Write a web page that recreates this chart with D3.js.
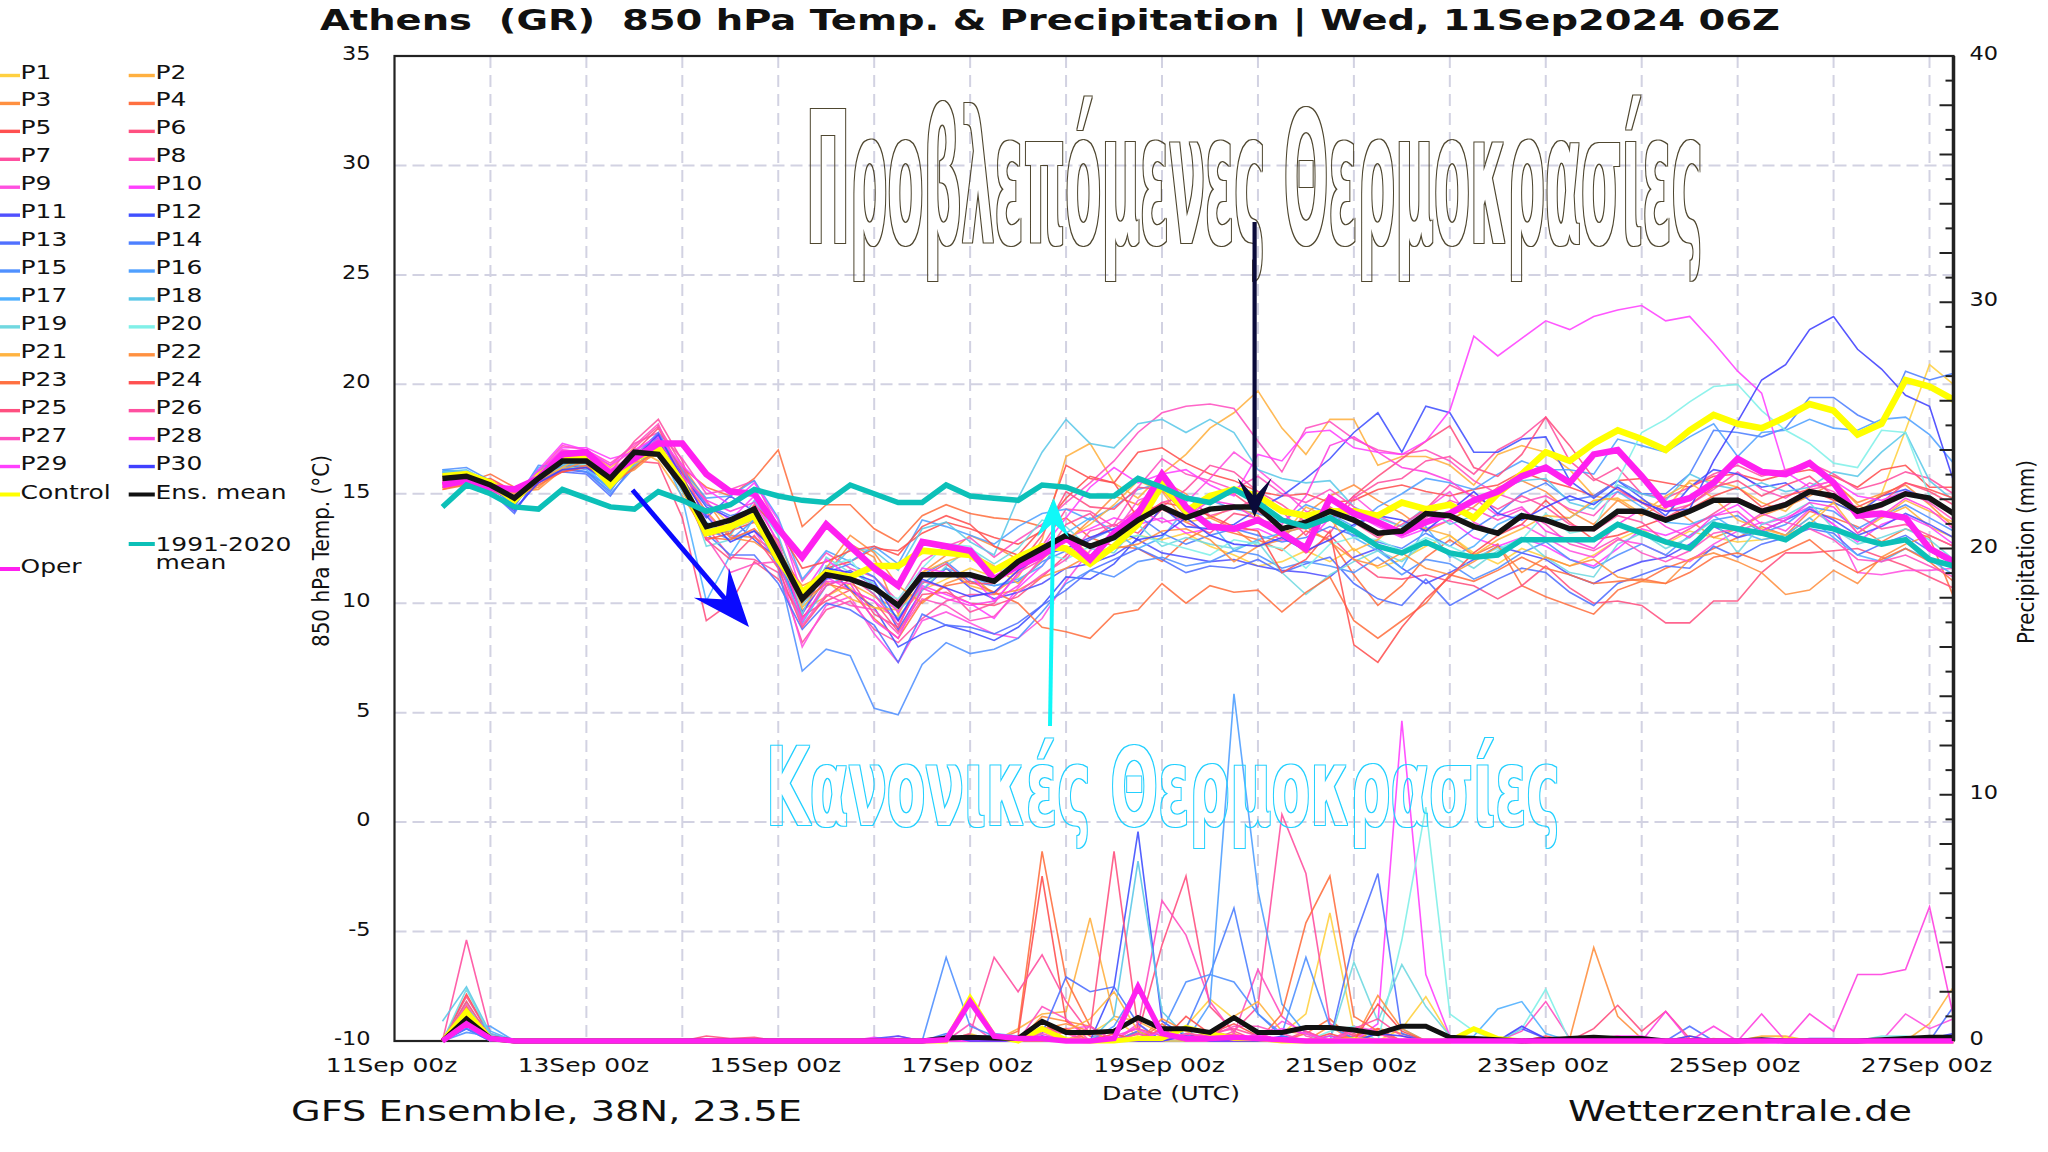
<!DOCTYPE html>
<html><head><meta charset="utf-8">
<style>html,body{margin:0;padding:0;background:#fff}svg{display:block}text{font-family:"DejaVu Sans";fill:#111}</style>
<script src="https://cdn.jsdelivr.net/npm/d3@7"></script></head><body><svg id="c" width="2048" height="1152"></svg>
<script>
const memberNames=["P1","P2","P3","P4","P5","P6","P7","P8","P9","P10","P11","P12","P13","P14","P15","P16","P17","P18","P19","P20","P21","P22","P23","P24","P25","P26","P27","P28","P29","P30"];
const memberColors=["#ffd040","#ffb040","#ff9040","#ff7040","#ff5050","#ff5080","#ff50a0","#ff50c0","#ff50e0","#ff40ff","#5050ff","#4050ff","#5070ff","#4d80ff","#5090ff","#50a0ff","#50b0ff","#5cc8e8","#70d8e0","#80f0e8","#ffb340","#ff9040","#ff7040","#ff5050","#ff5080","#ff50a0","#ff50c0","#ff40e0","#ff40ff","#4040ff"];
const tP1=[15.9,15.6,15.3,14.9,15.9,16.7,16.9,15.7,16.7,17.0,16.1,14.6,13.6,14.4,12.5,10.6,11.4,10.7,9.8,9.4,10.6,11.1,11.6,11.2,11.4,12.3,13.2,12.2,12.6,13.1,12.9,13.2,12.6,12.2,11.7,11.9,12.4,11.9,12.5,11.6,12.0,12.6,13.1,12.3,11.8,12.5,12.1,11.7,12.2,12.9,13.4,12.7,13.3,13.0,12.8,12.9,13.1,13.9,14.6,14.1,15.0,17.9,20.9,20.0];
const tP2=[15.8,15.5,15.2,14.7,15.6,16.3,16.9,16.2,17.1,16.5,14.9,13.2,13.4,13.8,11.9,9.7,10.3,10.9,10.3,9.7,10.9,11.6,10.8,10.5,11.2,12.9,16.7,17.3,15.5,14.8,15.9,16.8,18.0,18.7,19.7,18.0,16.8,18.4,18.4,16.3,16.7,16.7,16.3,15.4,16.8,17.2,16.9,16.1,14.9,14.7,14.7,14.3,15.6,15.6,15.3,14.6,14.2,15.3,15.6,14.5,13.9,14.4,13.5,13.0];
const tP3=[15.3,15.4,15.6,15.0,15.3,16.2,16.4,15.3,16.2,17.2,16.3,14.7,13.1,13.0,12.3,10.8,11.3,12.7,12.1,9.5,11.4,12.2,13.1,12.6,12.0,12.4,12.8,13.8,14.9,14.5,15.6,15.0,13.9,13.4,12.6,12.9,14.1,14.9,15.4,14.7,14.1,13.3,13.8,14.4,15.3,15.6,15.1,14.2,13.6,14.7,14.0,14.6,13.8,13.0,13.4,14.0,14.4,14.9,15.5,14.6,15.0,15.4,14.5,13.5];
const tP4=[15.4,15.5,15.9,15.3,15.6,16.2,16.3,15.5,16.3,17.0,16.2,15.3,14.9,15.7,17.0,13.5,14.5,14.5,13.4,12.8,14.0,14.5,14.1,13.9,13.8,13.5,13.9,13.0,12.6,12.5,11.9,12.9,13.5,13.2,12.9,12.4,13.3,12.9,11.3,9.9,10.8,12.1,12.9,12.2,12.7,10.8,10.3,9.9,9.5,10.6,11.0,11.6,12.0,12.5,13.0,13.5,13.1,14.2,13.9,13.5,12.8,13.4,13.0,10.3];
const tP5=[15.6,15.8,15.5,15.0,15.8,16.4,16.4,15.9,16.9,17.2,15.4,13.1,13.3,13.7,12.9,10.4,11.6,11.9,12.5,12.4,13.2,13.7,13.4,13.0,12.7,13.3,16.3,15.7,15.5,16.9,17.1,16.4,15.9,15.6,15.1,14.9,15.0,14.6,14.7,15.2,15.4,15.1,14.9,15.2,15.4,16.0,15.6,15.3,14.9,15.6,15.7,15.5,15.3,15.8,15.9,15.6,15.9,16.1,15.8,15.3,16.1,16.3,15.3,15.3];
const tP6=[15.3,15.6,15.2,14.6,15.5,16.4,16.6,15.6,16.5,16.4,13.9,9.2,10.0,11.9,11.1,9.4,10.1,10.6,10.1,8.7,10.4,10.5,10.0,9.9,10.3,11.2,12.2,12.9,13.6,13.2,14.3,13.7,13.2,14.1,13.9,13.2,12.3,13.1,12.0,11.2,11.1,11.3,11.0,10.8,10.2,10.8,11.7,10.7,10.0,10.1,9.9,9.1,9.1,10.1,10.1,11.4,12.3,12.3,12.4,12.5,12.1,11.7,11.2,10.7];
const tP7=[15.4,15.7,15.4,14.9,15.8,16.9,16.8,16.0,17.4,18.4,16.5,13.5,12.1,12.0,11.4,8.2,9.7,10.1,8.8,8.2,9.3,10.1,10.4,10.4,11.5,12.6,14.3,14.2,13.5,14.3,14.4,15.2,16.3,16.0,15.1,14.5,13.7,13.2,14.8,15.5,15.7,16.5,16.7,15.9,17.0,17.6,18.5,16.5,15.6,16.2,15.0,14.8,15.3,15.9,16.3,15.8,16.1,16.4,15.9,15.2,15.5,16.0,15.7,15.0];
const tP8=[15.5,15.4,15.0,14.5,16.0,17.0,16.9,16.3,17.3,17.8,16.6,15.0,15.2,15.6,13.5,11.0,12.3,11.6,11.2,10.1,11.9,12.6,13.0,12.1,12.9,13.6,14.6,15.5,16.5,17.8,18.7,19.0,19.1,18.9,17.4,16.0,18.0,18.3,17.5,17.0,16.8,17.0,16.5,15.6,15.0,14.6,14.9,14.3,14.0,15.1,14.6,14.2,14.5,15.2,16.0,15.2,14.8,15.5,15.1,14.0,14.4,15.1,14.6,13.8];
const tP9=[15.6,15.7,15.3,14.7,15.5,16.8,16.7,16.0,16.6,17.3,16.2,14.1,13.0,13.3,11.8,8.0,9.9,10.3,8.6,7.3,9.2,9.6,9.1,8.6,8.4,9.3,11.0,12.4,13.2,14.7,15.1,14.6,15.7,16.9,16.1,15.2,14.2,13.8,14.9,14.0,13.5,14.3,15.1,13.7,13.2,13.6,13.0,12.4,12.1,12.9,12.7,12.2,11.9,12.7,13.3,13.7,13.3,14.3,13.6,11.4,11.3,11.5,11.5,11.6];
const tP10=[15.7,15.8,15.6,14.9,15.9,17.1,17.1,16.6,16.9,17.7,15.9,14.6,13.8,14.9,12.7,9.5,11.2,10.6,10.1,9.2,10.8,10.4,10.0,9.3,10.7,11.7,13.0,13.4,13.9,13.6,13.9,13.2,13.4,13.3,13.4,12.9,12.7,13.9,14.1,13.5,13.0,13.4,13.8,13.0,12.6,13.0,12.6,12.0,11.7,12.5,13.4,13.1,13.5,14.0,14.5,13.6,13.9,14.4,13.6,12.8,13.6,14.0,13.5,12.7];
const tP11=[15.9,15.7,15.1,14.2,15.6,16.1,16.0,15.3,16.6,17.1,15.3,13.9,14.9,14.2,11.7,9.6,11.1,11.5,10.8,8.8,10.6,11.6,10.7,10.2,10.5,10.9,11.6,11.8,12.2,12.9,12.3,12.1,11.9,12.0,11.7,11.5,11.4,11.2,12.1,12.5,11.6,10.9,11.4,12.0,12.6,12.3,12.0,11.3,10.9,11.5,11.9,12.1,12.7,13.5,13.0,13.3,13.8,14.3,13.8,13.1,13.5,14.1,13.6,13.0];
const tP12=[15.8,15.9,15.3,14.5,15.9,16.3,16.2,15.5,16.8,17.4,15.9,14.4,13.9,12.9,12.0,9.5,11.7,10.6,9.8,8.0,8.6,9.0,8.7,8.3,8.9,9.9,11.2,11.1,11.8,13.0,14.4,13.5,13.4,13.6,14.3,14.9,15.7,16.6,17.8,18.7,16.9,19.0,18.7,16.9,16.9,17.5,17.6,15.6,14.8,15.6,14.8,14.0,15.3,16.1,15.9,15.3,15.5,14.7,14.6,14.1,14.9,15.2,14.7,14.2];
const tP13=[16.0,15.7,15.1,14.1,15.9,16.0,15.9,14.9,16.4,17.6,15.6,13.2,12.2,12.2,10.9,8.8,10.0,9.7,9.0,7.3,9.5,9.0,8.9,8.6,9.1,9.9,10.6,11.5,12.0,12.5,12.0,11.4,11.7,11.6,12.0,11.4,11.8,12.1,10.9,10.2,9.9,11.1,9.9,10.5,11.1,11.6,11.4,10.5,9.9,10.9,11.3,11.7,11.6,12.6,12.1,12.7,13.0,13.4,13.2,12.2,12.7,13.1,12.4,11.8];
const tP14=[16.1,15.9,15.4,14.4,16.0,16.2,16.0,15.1,16.7,17.8,16.0,14.5,14.0,14.3,12.4,9.9,11.4,11.8,11.2,9.9,11.3,11.9,11.0,10.8,11.0,11.9,12.4,12.9,13.4,14.0,13.2,12.7,13.1,13.4,13.1,12.8,13.0,13.5,13.1,12.8,12.5,13.2,12.6,13.4,14.1,15.0,15.5,14.7,14.9,15.6,15.0,15.0,15.9,17.9,17.8,17.6,18.0,19.4,19.4,18.6,18.1,20.6,20.2,20.5];
const tP15=[16.1,16.2,15.6,14.6,16.3,16.2,16.0,15.0,16.2,17.3,15.1,13.4,12.9,13.8,11.6,6.9,7.9,7.6,5.2,4.9,7.2,8.2,7.7,7.9,8.4,9.6,10.9,11.5,11.2,11.9,12.1,11.7,11.9,12.4,12.2,11.6,11.9,11.7,11.4,12.1,11.3,12.0,11.8,11.1,11.6,12.3,12.8,12.0,11.6,12.2,12.7,12.2,13.1,13.8,14.0,13.2,13.6,14.4,14.2,13.4,14.0,14.5,13.9,13.3];
const tP16=[16.1,16.0,15.5,14.5,16.1,16.3,16.1,15.2,16.4,17.5,16.1,14.8,14.9,15.6,13.9,11.1,12.4,11.9,12.6,11.8,13.8,13.5,13.1,12.7,13.5,14.1,14.3,13.8,14.4,15.2,15.5,14.9,14.7,14.3,14.1,13.7,14.5,14.1,13.5,14.4,15.0,15.7,15.5,15.2,15.9,16.5,16.1,16.1,15.9,17.5,17.2,16.9,17.6,18.2,16.7,17.8,17.9,18.4,18.0,17.9,18.4,18.5,17.7,16.4];
const tP17=[16.0,15.9,15.4,14.5,16.2,16.4,16.2,15.2,16.5,17.2,14.8,10.1,12.2,13.9,12.2,9.1,10.8,11.3,10.4,9.3,10.9,11.6,11.2,10.8,11.1,11.7,13.2,13.9,13.3,12.5,13.0,14.3,13.7,12.4,12.9,13.2,13.5,14.1,13.0,12.4,11.6,13.5,12.1,12.6,13.6,14.1,13.7,13.9,14.6,15.1,14.4,13.7,13.6,14.0,13.3,12.9,13.1,13.9,13.0,12.2,11.9,12.5,12.0,11.3];
const tP18=[16.0,16.1,15.5,14.7,16.0,16.3,16.4,15.4,16.3,17.0,15.5,13.7,13.1,14.7,13.1,10.0,11.3,12.5,12.4,11.5,13.4,13.7,12.8,12.2,14.8,16.9,18.4,17.3,17.1,18.2,18.4,17.8,18.4,17.8,16.1,15.7,15.5,15.6,14.4,13.9,13.5,14.4,13.6,14.0,15.2,15.6,15.7,14.6,14.3,15.4,15.0,14.7,15.9,15.4,15.2,15.5,15.1,15.3,16.0,15.8,16.9,17.8,15.6,14.7];
const tP19=[15.9,15.9,15.4,14.9,15.8,16.2,16.2,15.5,16.6,16.9,15.8,12.6,12.9,13.3,12.8,9.5,12.1,11.4,10.9,9.7,10.6,11.7,12.5,11.8,12.5,13.8,13.5,12.5,12.3,13.6,12.6,13.0,12.7,12.5,12.8,11.4,10.4,11.3,11.9,12.4,11.9,12.8,12.2,11.6,12.4,13.0,12.1,11.4,11.2,12.7,13.2,12.5,13.0,13.8,12.3,13.6,14.0,14.6,13.4,12.7,13.0,13.4,12.9,12.0];
const tP20=[15.7,15.8,15.3,14.9,15.9,16.5,16.3,15.6,16.7,17.0,15.1,13.4,13.3,13.9,12.5,9.9,11.7,12.0,10.6,10.2,11.6,12.7,12.6,11.4,11.8,12.3,12.0,12.6,12.9,13.1,12.8,12.5,12.2,12.9,12.7,12.5,11.6,12.7,13.0,12.9,12.4,13.0,12.6,12.1,12.5,12.9,14.1,13.2,13.4,15.6,17.8,18.4,19.2,19.9,20.0,18.8,17.9,17.3,16.4,16.2,17.9,17.8,14.9,14.1];
const tP21=[15.5,15.6,15.4,15.0,15.6,16.2,16.8,15.8,16.4,16.8,15.3,13.3,13.6,14.1,12.7,9.8,11.0,10.2,9.8,9.7,11.4,11.9,12.3,11.7,10.9,12.0,12.9,13.6,14.5,15.6,15.1,13.7,13.9,14.4,14.0,13.0,14.4,13.9,12.4,12.9,13.8,13.4,13.1,12.2,12.9,13.4,14.0,13.9,14.7,14.8,14.1,14.9,15.5,14.8,13.8,13.4,13.1,13.6,14.6,13.2,13.9,14.7,14.2,13.7];
const tP22=[15.2,15.5,15.6,15.1,15.2,16.1,16.5,15.6,16.1,17.0,15.7,14.2,13.0,12.8,12.0,10.0,11.6,13.1,12.3,10.8,10.0,10.9,11.3,10.4,10.6,11.2,11.6,12.2,12.5,12.7,13.3,13.4,12.9,11.9,12.6,13.2,13.5,12.8,12.0,11.7,12.3,11.6,11.3,11.9,12.6,11.4,12.1,11.7,12.0,11.2,11.0,10.9,12.0,12.3,11.9,11.4,10.4,10.6,11.5,10.9,12.1,12.7,13.1,12.6];
const tP23=[15.2,15.4,15.3,14.8,15.4,16.0,16.3,15.4,16.2,17.1,15.6,13.0,12.9,13.4,12.2,10.1,10.9,10.6,9.3,8.4,10.1,10.8,11.0,10.5,10.0,8.9,8.7,8.4,9.5,9.7,10.9,10.0,10.8,10.5,10.6,9.6,10.5,11.2,9.2,8.4,9.2,10.0,11.3,11.0,11.5,12.1,11.6,11.3,10.9,11.0,11.1,10.9,11.4,12.1,12.3,11.9,12.4,12.9,12.0,11.4,12.0,12.5,11.9,11.0];
const tP24=[15.5,15.6,15.7,15.1,15.5,16.0,16.2,15.7,16.6,16.9,15.2,12.9,13.2,14.5,13.4,11.6,11.9,12.4,12.6,12.2,13.5,14.0,13.6,12.6,12.2,13.4,14.8,15.8,15.5,13.9,14.6,14.4,14.0,13.5,13.3,11.4,12.0,13.3,8.1,7.3,8.9,10.2,11.2,12.3,13.1,13.6,14.7,13.7,12.9,13.1,13.5,13.9,14.3,14.9,15.3,14.4,14.9,15.2,14.7,14.4,14.9,15.5,15.2,14.8];
const tP25=[15.3,15.5,15.4,14.7,15.7,16.7,16.7,15.9,16.9,18.0,16.0,12.9,12.0,13.1,11.6,8.9,10.3,11.1,9.5,8.9,11.2,11.8,10.9,10.9,11.7,13.1,15.1,14.4,14.3,15.3,15.2,14.0,14.8,15.0,14.2,13.5,13.4,13.8,14.9,15.8,16.6,17.4,18.1,16.2,15.8,16.8,18.5,17.2,15.7,15.2,14.6,13.9,14.5,15.3,15.6,14.9,15.4,15.8,14.9,14.1,14.6,15.5,15.1,14.5];
const tP26=[15.5,15.6,15.2,14.8,15.8,16.8,16.6,15.8,17.1,18.1,16.3,13.6,13.5,14.3,12.6,9.3,10.8,11.2,10.4,9.0,11.0,10.7,9.6,10.0,11.4,12.0,13.6,14.1,13.0,13.7,14.6,14.9,14.0,14.3,14.8,14.2,13.1,14.4,13.7,13.0,13.6,14.3,15.4,14.9,14.3,14.9,14.4,13.6,13.3,14.0,13.7,12.8,13.4,14.1,14.8,14.3,14.6,15.2,15.4,14.0,13.4,13.6,13.1,12.6];
const tP27=[15.6,15.8,15.4,14.6,16.0,17.2,17.0,16.4,17.2,18.2,15.6,13.0,11.4,11.8,11.9,9.0,10.4,9.9,9.7,8.6,10.2,9.9,9.2,9.4,10.5,11.3,12.0,13.3,13.6,15.3,16.6,15.9,15.6,15.2,15.8,15.0,14.6,15.2,14.4,13.6,13.2,13.9,14.7,14.3,13.8,14.3,13.6,12.7,12.4,13.0,12.3,11.9,12.4,13.2,13.4,14.1,13.7,13.4,12.9,12.0,11.9,12.2,11.7,11.2];
const tP28=[15.7,15.6,15.1,14.8,15.8,17.0,16.9,16.1,16.8,17.5,15.8,14.7,14.2,14.6,12.8,9.2,11.0,10.9,9.2,8.4,10.7,10.2,9.9,10.1,10.8,12.1,12.8,12.6,13.0,14.3,13.7,13.9,14.7,14.5,13.8,13.6,14.9,17.2,17.6,16.9,16.2,16.0,15.6,14.8,14.0,14.4,13.3,12.9,12.5,13.6,14.3,13.5,13.0,14.0,14.2,13.3,13.8,14.6,14.4,13.2,14.0,14.8,14.3,13.4];
const tP29=[15.8,15.7,15.4,14.9,16.1,17.3,17.0,16.3,17.0,17.6,16.3,15.2,14.5,15.5,13.8,10.4,12.0,11.2,10.8,9.6,11.6,11.4,11.3,10.1,11.3,12.5,13.9,15.3,16.2,15.5,15.9,16.1,15.4,14.9,16.8,16.5,17.8,17.9,17.1,16.9,16.8,17.4,18.8,22.2,21.3,22.1,22.9,22.5,23.1,23.4,23.6,22.9,23.1,21.9,20.6,19.6,16.0,15.3,15.6,14.9,14.7,15.1,14.8,14.2];
const tP30=[15.8,15.6,15.0,14.3,15.5,16.1,16.2,15.5,16.6,17.7,15.7,14.0,12.8,13.3,12.3,10.3,11.6,11.4,11.0,9.2,11.1,10.7,10.3,10.5,11.5,12.2,12.5,13.0,13.4,12.9,13.1,13.9,13.1,12.7,12.6,13.0,12.4,12.9,13.6,14.0,13.8,13.3,14.2,15.1,14.1,13.8,14.4,14.9,14.5,15.3,14.6,14.2,14.3,16.5,18.3,20.2,20.9,22.5,23.1,21.6,20.7,19.5,19.0,15.6];
const tempMembers=[tP1,tP2,tP3,tP4,tP5,tP6,tP7,tP8,tP9,tP10,tP11,tP12,tP13,tP14,tP15,tP16,tP17,tP18,tP19,tP20,tP21,tP22,tP23,tP24,tP25,tP26,tP27,tP28,tP29,tP30];
const tControl=[15.8,15.9,15.5,14.7,15.8,16.6,16.6,15.4,16.6,17.1,15.5,13.2,13.5,14.0,12.0,10.5,11.4,11.2,11.7,11.7,12.4,12.3,12.2,11.5,12.1,12.6,12.5,11.8,12.6,13.6,15.4,14.2,14.9,15.2,14.9,14.2,14.0,14.2,14.2,14.0,14.6,14.3,14.5,13.9,15.0,15.9,16.9,16.5,17.3,17.9,17.5,17.0,17.9,18.6,18.2,18.0,18.5,19.1,18.8,17.7,18.2,20.2,19.9,19.3];
const tMean=[15.7,15.8,15.4,14.8,15.7,16.5,16.5,15.7,16.9,16.8,15.4,13.5,13.8,14.3,12.3,10.2,11.3,11.1,10.7,9.9,11.3,11.3,11.3,11.0,11.9,12.5,13.1,12.6,13.0,13.8,14.4,13.9,14.3,14.4,14.4,13.4,13.7,14.2,13.8,13.2,13.3,14.1,14.0,13.5,13.2,14.0,13.8,13.4,13.4,14.2,14.2,13.8,14.2,14.7,14.7,14.2,14.5,15.1,14.9,14.2,14.5,15.0,14.8,14.1];
const tOper=[15.4,15.6,15.3,15.2,15.7,16.8,16.9,15.9,16.6,17.3,17.3,15.9,15.1,15.0,13.4,12.1,13.6,12.6,11.6,10.8,12.8,12.6,12.4,11.1,11.7,12.2,13.0,12.0,13.2,14.1,15.9,14.4,13.5,13.4,13.8,13.2,12.5,14.8,14.1,13.7,13.2,13.7,14.1,14.7,15.1,15.8,16.2,15.5,16.8,17.0,15.8,14.5,14.8,15.5,16.6,16.0,15.9,16.4,15.5,14.0,14.1,13.9,12.5,11.9];
const tClim=[14.4,15.4,15.0,14.4,14.3,15.2,14.8,14.4,14.3,15.1,14.7,14.2,14.5,15.2,14.9,14.7,14.6,15.4,15.0,14.6,14.6,15.4,14.9,14.8,14.7,15.4,15.3,14.9,14.9,15.7,15.3,14.8,14.6,15.2,14.6,13.8,13.5,13.9,13.3,12.6,12.3,12.8,12.3,12.1,12.2,12.9,12.9,12.9,12.9,13.6,13.2,12.8,12.5,13.6,13.4,13.2,12.9,13.6,13.4,13.0,12.7,12.9,12.0,11.7];
// precipitation as {step: mm}; every step not listed is dry
const rainMembers=[
 {1:1.0,22:.3,25:.6,27:.3,28:.9,29:.2,31:.6,32:1.7,33:.9,34:.4,35:.3,36:1.1,37:5.2,38:.4,40:.5,41:1.8,42:.2},
 {1:.9,24:.5,25:1.1,26:1.2,27:5.0,28:1.0,29:.8,30:.3,32:.4,33:.2,46:.1,52:.2,55:.2,56:.2,62:.7,63:2.2},
 {1:1.1,25:1.0,26:.8,27:.6,29:.4,33:.3,37:.6,39:.5,40:.3,48:.2,49:.1},
 {1:1.4,24:.4,25:7.7,26:2.5,27:.6,30:.5,34:.2,36:.3,37:.9,39:.3},
 {1:1.9,2:.2,24:.2,25:6.7,26:.8,27:.2,29:.3,31:.3,33:.2,38:.2,39:.5,46:.2},
 {1:1.8,2:.2,11:.2,12:.1,13:.15,29:.3,30:3.9,31:6.7,32:1.4,33:.4,38:.3},
 {1:4.1,2:.3,22:.3,23:3.4,24:2.0,25:3.5,26:1.6,27:.3,33:.4,34:1.4,35:9.2,36:6.8,37:.7,38:.2},
 {1:1.5,22:.7,25:1.4,26:.9,29:.6,30:5.7,31:4.3,32:1.6,33:.3,34:2.9,35:1.0,36:.2,45:.4,46:1.6,47:.1},
 {1:1.0,19:.2,25:.5,26:.5,27:.6,29:.7,35:.8,36:.4,38:.6,39:.4,61:1.1,62:.5,63:.9},
 {1:1.0,18:.15,39:.7,40:13,41:2.7,42:.2},
 {1:.7,18:.1,19:.2,33:.2,35:.2,37:.2,45:.5,46:.1},
 {1:.5,19:.1,28:2.2,29:8.5,30:.8,31:.2,32:.2},
 {1:.6,23:.2,25:.3,26:2.6,27:2.0,28:2.2,29:.7,38:4.1,39:6.8,40:.3,52:.6,63:1.4},
 {1:.5,21:.3,29:.4,31:.5,32:2.7,33:5.4,34:1.1,35:.2},
 {1:.35,2:.2,21:3.4,22:.6,23:.2,28:.6,29:2.2,30:.4,31:2.4,32:2.7,33:2.4,34:1.1,35:.3,36:3.4,37:.6,38:.1},
 {1:.6,2:.6,32:1.5,33:14.1,34:6.1,35:1.5,36:.3},
 {1:1.3,2:.4,23:.3,24:.2,30:.4,38:.1,42:.1,43:.2,44:1.3,45:1.6,46:.3},
 {0:.8,1:2.2,2:.3,28:1.0,29:7.3,30:1.2,31:.2,39:.3,40:.5},
 {1:2.1,2:.2,38:3.2,39:.8,40:3.1,41:1.4,42:.2},
 {1:1.6,37:.4,38:.6,40:4.1,41:9.5,42:1.1,43:.4,45:.5,46:2.1,61:.2,60:.2},
 {1:1.0,26:.4,27:.9,28:2.0,29:.4,32:.4,33:1.0,34:1.6,35:.4,36:.3,53:.1},
 {1:1.1,25:.5,26:.7,27:.4,30:.9,31:.4,39:1.85,40:.5,47:.1,48:3.8,49:1.0,50:.1},
 {1:1.0,25:.4,26:.5,30:.7,35:1.1,36:4.8,37:6.7,38:1.0,39:.4},
 {1:1.2,25:.8,28:.3,31:1.0,32:.3,33:.7,34:.2,37:.3,39:1.5,40:.4,49:.2},
 {1:1.6,2:.1,27:.4,28:7.7,29:.5,30:.2,33:1.0,34:.3,48:.5,49:1.45,50:.4,51:1.2,52:.1},
 {1:1.3,25:.5,26:.3,30:.5,32:.3,33:.5,34:.2,36:.4,38:.5,39:.9,40:.2},
 {1:1.2,25:.3,27:.6,29:.3,31:.3,32:.2,33:.6,34:.6,35:.3,38:.4,39:.3},
 {1:.9,25:.4,28:.2,29:.5,31:.2,34:.3,37:.2,51:1.2,53:.6,55:1.1,57:1.1,58:.4,59:2.7,60:2.7,61:2.9,62:5.45,63:1.0},
 {1:.8,25:.2,30:.4,34:.2,35:.5,36:.3,50:.2,49:.2,48:.1},
 {1:.7,21:.2,25:.2,31:.2,39:.3,40:.2,45:.6,46:.1,52:.2,57:.1,58:.1,62:.1,63:.3}
];
const rainControl={1:1.2,2:.1,22:1.75,23:.2,25:.5,26:.05,29:.1,30:.1,31:.55,32:.3,33:.1,34:.1,38:.05,43:.5,44:.1,56:.05};
const rainMean={1:.9,2:.1,21:.12,22:.15,23:.12,24:.1,25:.8,26:.35,27:.35,28:.4,29:.95,30:.5,31:.5,32:.35,33:.95,34:.35,35:.35,36:.55,37:.55,38:.45,39:.3,40:.6,41:.6,42:.15,43:.1,44:.05,46:.05,47:.1,48:.15,49:.1,50:.1,55:.05,60:.05,61:.1,62:.15,63:.15};
const rainOper={1:.7,2:.1,21:.05,22:1.6,23:.2,24:.1,25:.1,28:.1,29:2.2,30:.3,31:.1,32:.1,33:.15,34:.1,35:.05};
const steps=64;
const legendExtra=["Control","Ens. mean","1991-2020","mean","Oper"];
const titleText="Athens  (GR)  850 hPa Temp. & Precipitation | Wed, 11Sep2024 06Z";
const tempTicks=[35,30,25,20,15,10,5,0,-5,-10];
const rainTicks=[40,30,20,10,0];
const teal="#0cc0b8";

const svg=d3.select("#c");
const L=394.5,R=1953.5,T=56,B=1041;
const x=d3.scaleUtc().domain([Date.UTC(2024,8,11,0),Date.UTC(2024,8,27,6)]).range([L,R]);
const yT=d3.scaleLinear().domain([-10,35]).range([B,T]);
const yR=d3.scaleLinear().domain([0,40]).range([B,T]);
const stepTime=i=>new Date(Date.UTC(2024,8,11,12)+i*6*3600e3);
const lineT=d3.line().x((d,i)=>x(stepTime(i))).y(d=>yT(d));
const lineR=d3.line().x((d,i)=>x(stepTime(i))).y(d=>yR(d));
const fill=o=>d3.range(steps).map(i=>o[i]||0);

function txt(parent,s,px,py,size,o={}){
  const t=parent.append("text").text(s).attr("font-size",size).attr("xml:space","preserve").style("white-space","pre");
  const rot=o.rot?` rotate(${o.rot})`:"";
  t.attr("transform",`translate(${px},${py})${rot} scale(${o.sx||1},1)`);
  if(o.len){t.attr("textLength",o.len).attr("lengthAdjust","spacingAndGlyphs");}
  if(o.anchor)t.attr("text-anchor",o.anchor);
  if(o.weight)t.attr("font-weight",o.weight);
  return t;
}

// grid
const grid=svg.append("g").attr("stroke","#d2d2e2").attr("fill","none");
grid.selectAll("line.h").data(tempTicks.filter(v=>v!==35&&v!==-10)).join("line").attr("x1",L).attr("x2",R).attr("y1",d=>yT(d)).attr("y2",d=>yT(d)).attr("stroke-width",2).attr("stroke-dasharray","12,6");
grid.selectAll("line.v").data(d3.utcDay.range(new Date(Date.UTC(2024,8,12)),new Date(Date.UTC(2024,8,28)))).join("line").attr("x1",d=>x(d)).attr("x2",d=>x(d)).attr("y1",T).attr("y2",B).attr("stroke-width",2).attr("stroke-dasharray","12,7");

// frame (series paint over it)
svg.append("rect").attr("x",L).attr("y",T).attr("width",R-L).attr("height",B-T).attr("fill","none").attr("stroke","#222").attr("stroke-width",2.2);

// precipitation
const gR=svg.append("g").attr("fill","none");
rainMembers.forEach((r,k)=>gR.append("path").attr("d",lineR(fill(r))).attr("stroke",memberColors[k]).attr("stroke-width",1.6).attr("opacity",.9));
gR.append("path").attr("d",lineR(fill(rainControl))).attr("stroke","#ffff00").attr("stroke-width",5);
gR.append("path").attr("d",lineR(fill(rainMean))).attr("stroke","#111").attr("stroke-width",5);
gR.append("path").attr("d",lineR(fill(rainOper))).attr("stroke","#ff20f0").attr("stroke-width",5.5);

// temperature
const gT=svg.append("g").attr("fill","none");
tempMembers.forEach((s,k)=>gT.append("path").attr("d",lineT(s)).attr("stroke",memberColors[k]).attr("stroke-width",1.6).attr("opacity",.88));
gT.append("path").attr("d",lineT(tControl)).attr("stroke","#ffff00").attr("stroke-width",6.5);
gT.append("path").attr("d",lineT(tOper)).attr("stroke","#ff20f0").attr("stroke-width",6.5);
gT.append("path").attr("d",lineT(tMean)).attr("stroke","#141414").attr("stroke-width",5.5);
gT.append("path").attr("d",lineT(tClim)).attr("stroke",teal).attr("stroke-width",5.5);

svg.append("line").attr("x1",R).attr("x2",R).attr("y1",T).attr("y2",B).attr("stroke","#222").attr("stroke-width",3.5);

// axes
const axL=svg.append("g").attr("transform",`translate(${L},0)`).call(d3.axisLeft(yT).tickValues(tempTicks).tickSize(0).tickFormat(d=>String(d)));
axL.select(".domain").remove();
axL.selectAll("text").attr("x",0).attr("y",0).attr("dy",null).attr("text-anchor","end").attr("font-family","DejaVu Sans").attr("font-size",19.5).attr("transform","translate(-24,3.5) scale(1.15,1)");
const axR=svg.append("g").attr("transform",`translate(${R},0)`).call(d3.axisRight(yR).tickValues(rainTicks).tickSize(0));
axR.select(".domain").remove();
axR.selectAll("text").attr("x",0).attr("y",0).attr("dy",null).attr("text-anchor","start").attr("font-family","DejaVu Sans").attr("font-size",19.5).attr("transform","translate(16,3.5) scale(1.15,1)");
const minor=svg.append("g").attr("stroke","#222").attr("stroke-width",2);
minor.selectAll("line").data(d3.range(1,40)).join("line").attr("x1",d=>d%2?R-8:R-14).attr("x2",R).attr("y1",d=>yR(d)).attr("y2",d=>yR(d));
const axB=svg.append("g").attr("transform",`translate(0,${B})`).call(d3.axisBottom(x).tickValues(d3.range(0,9).map(k=>new Date(Date.UTC(2024,8,11+2*k)))).tickSize(0).tickFormat(d=>d3.utcFormat("%d")(d)+"Sep 00z"));
axB.select(".domain").remove();
axB.selectAll("text").attr("x",0).attr("y",0).attr("dy",null).attr("text-anchor","middle").attr("font-family","DejaVu Sans").attr("font-size",19.5).attr("transform","translate(-3.5,31) scale(1.28,1)");

// titles
const gTx=svg.append("g");
txt(gTx,titleText,320,30,29,{len:1460,weight:"bold"});
txt(gTx,"Date (UTC)",1102,1100,19.5,{len:138});
txt(gTx,"GFS Ensemble, 38N, 23.5E",291,1121,29,{len:511});
txt(gTx,"Wetterzentrale.de",1568,1121,29,{len:344});
txt(gTx,"850 hPa Temp. (°C)",329,647,23,{rot:-90,len:192});
txt(gTx,"Precipitation (mm)",2034,644,23,{rot:-90,len:184});

// legend
const gL=svg.append("g");
function key(col,yy,name,color,w,dy){
  const x1=col?128.7:-6,x2=col?154.8:20,tx=col?155.5:20.5;
  gL.append("line").attr("x1",x1).attr("x2",x2).attr("y1",yy).attr("y2",yy).attr("stroke",color).attr("stroke-width",w);
  if(name)txt(gL,name,tx,yy+dy,19.5,{sx:1.28});
}
memberNames.forEach((n,k)=>key(k%2,75.5+27.93*Math.floor(k/2),n,memberColors[k],3.4,3));
key(0,494.5,legendExtra[0],"#ffff00",4,4.5);
key(1,494.5,legendExtra[1],"#111",4,4.5);
key(1,544,legendExtra[2],teal,4,6.5);
txt(gL,legendExtra[3],155.5,568.5,19.5,{sx:1.28});
key(0,569,legendExtra[4],"#ff20f0",4,3.5);

// overlaid annotation text: glyphs are stretched by a transform, and an outline filter
// on the untransformed parent group keeps the outline an even width
const defs=svg.append("defs");
function outlineFilter(id,radius){
  const f=defs.append("filter").attr("id",id).attr("filterUnits","userSpaceOnUse").attr("x",0).attr("y",0).attr("width",2048).attr("height",1152).attr("color-interpolation-filters","sRGB");
  f.append("feMorphology").attr("in","SourceGraphic").attr("operator","dilate").attr("radius",radius).attr("result","grown");
  f.append("feComposite").attr("in","grown").attr("in2","SourceAlpha").attr("operator","out");
}
outlineFilter("ringDark",.8);
outlineFilter("ringCyan",.9);
function outline(s,px,py,size,len,sy,color,filterId){
  const g=svg.append("g").attr("filter",`url(#${filterId})`);
  const t=g.append("text").text(s).attr("font-family","Liberation Sans").attr("font-weight","bold").attr("font-size",size).style("fill",color);
  const sx=len/t.node().getComputedTextLength();
  t.attr("transform",`translate(${px},${py}) scale(${sx},${sy})`);
}
outline("Προβλεπόμενες Θερμοκρασίες",806,243,36,897,5.08,"#4f4730","ringDark");
outline("Κανονικές Θερμοκρασίες",766,825,36,794,3.03,"#22d0ff","ringCyan");

// hand-drawn arrows
function arrow(x0,y0,x1,y1,len,half,notch,color,w){
  const a=Math.atan2(y1-y0,x1-x0),c=Math.cos(a),s=Math.sin(a);
  const bx=x1-len*c,by=y1-len*s,nx=x1-notch*c,ny=y1-notch*s;
  svg.append("line").attr("x1",x0).attr("y1",y0).attr("x2",nx).attr("y2",ny).attr("stroke",color).attr("stroke-width",w);
  svg.append("path").attr("fill",color).attr("d",`M${x1},${y1}L${bx-half*s},${by+half*c}L${nx},${ny}L${bx+half*s},${by-half*c}Z`);
}
arrow(632.5,490,749,627,58,23,36,"#0a0aff",4.8);
arrow(1254.6,222,1254.6,517,39,17,20,"#0a0a3a",4.2);
arrow(1050,726,1053.6,498,39,16,25,"#10f8f8",4);
</script></body></html>
